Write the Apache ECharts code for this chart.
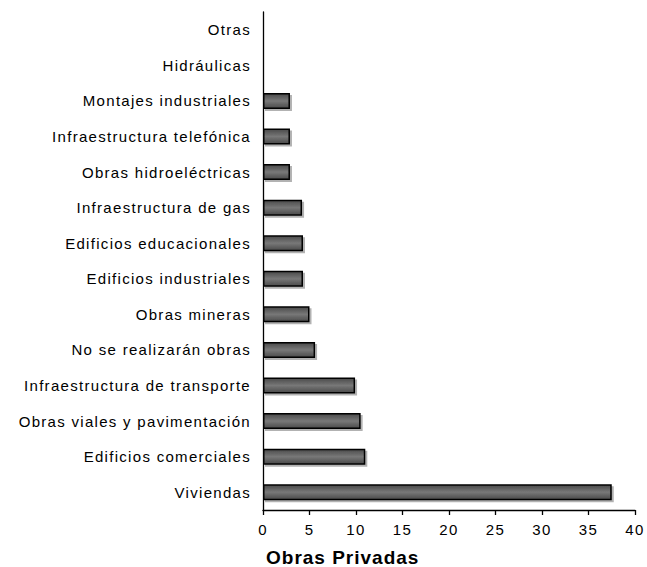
<!DOCTYPE html>
<html>
<head>
<meta charset="utf-8">
<script src="https://cdn.jsdelivr.net/npm/echarts@6/dist/echarts.min.js"></script>
<style>
  html, body { margin: 0; padding: 0; background: #fff; }
  #chart { width: 647px; height: 567px; }
  #chart text { letter-spacing: 1.3px; }
  #chart text[style*="bold"] { letter-spacing: 1px; }
</style>
</head>
<body>
<div id="chart"></div>
<script>
const categories = [
  'Viviendas',
  'Edificios comerciales',
  'Obras viales y pavimentación',
  'Infraestructura de transporte',
  'No se realizarán obras',
  'Obras mineras',
  'Edificios industriales',
  'Edificios educacionales',
  'Infraestructura de gas',
  'Obras hidroeléctricas',
  'Infraestructura telefónica',
  'Montajes industriales',
  'Hidráulicas',
  'Otras'
];
const values = [37.5, 11.0, 10.5, 9.9, 5.6, 5.0, 4.3, 4.3, 4.2, 2.9, 2.9, 2.9, 0, 0];
const axisTitle = 'Obras Privadas';
const xMin = 0, xMax = 40, xStep = 5;

const chart = echarts.init(document.getElementById('chart'), null, { renderer: 'svg' });
const font = '"Liberation Sans", Arial, sans-serif';
chart.setOption({
  animation: false,
  backgroundColor: '#ffffff',
  title: {
    text: axisTitle,
    left: 266,
    top: 548,
    padding: 0,
    textStyle: { fontFamily: font, fontSize: 19, fontWeight: 'bold', color: '#000' }
  },
  grid: { left: 263, right: 12, top: 12, bottom: 57, containLabel: false },
  xAxis: {
    type: 'value',
    min: xMin, max: xMax, interval: xStep,
    splitLine: { show: false },
    axisLine: { show: true, lineStyle: { color: '#000', width: 1.3 } },
    axisTick: { show: true, length: 5, lineStyle: { color: '#000', width: 1.3 } },
    axisLabel: { fontFamily: font, fontSize: 15, color: '#000', margin: 12 }
  },
  yAxis: {
    type: 'category',
    data: categories,
    axisLine: { show: true, lineStyle: { color: '#000', width: 1.3 } },
    axisTick: { show: false },
    axisLabel: { fontFamily: font, fontSize: 15, color: '#000', margin: 12, interval: 0 }
  },
  series: [{
    type: 'bar',
    data: values,
    barWidth: 16,
    itemStyle: {
      color: {
        type: 'linear', x: 0, y: 0, x2: 0, y2: 1,
        colorStops: [
          { offset: 0, color: '#4a4a4a' },
          { offset: 0.5, color: '#787878' },
          { offset: 1, color: '#4a4a4a' }
        ]
      },
      borderColor: '#000',
      borderWidth: 1.5,
      shadowColor: 'rgba(0,0,0,0.3)',
      shadowOffsetX: 2,
      shadowOffsetY: 2,
      shadowBlur: 0
    }
  }]
});
</script>
</body>
</html>
